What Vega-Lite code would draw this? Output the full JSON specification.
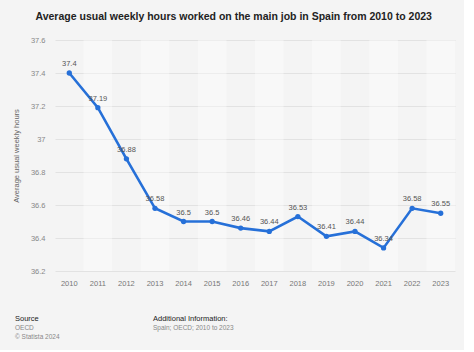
{
  "$schema": "https://vega.github.io/schema/vega-lite/v6.json",
  "background": "#f4f4f4",
  "padding": {"left": 12, "top": 11, "right": 9, "bottom": 5},
  "title": {"text": "Average usual weekly hours worked on the main job in Spain from 2010 to 2023", "anchor": "middle", "fontSize": 10.5, "fontWeight": "bold", "color": "#222222", "font": "Liberation Sans", "offset": 14},
  "config": {"view": {"stroke": null}, "font": "Liberation Sans"},
  "spacing": 28,
  "vconcat": [
    {
      "width": 400,
      "height": 231,
      "data": {"values": [
        {"year": 2010, "hours": 37.4},
        {"year": 2011, "hours": 37.19},
        {"year": 2012, "hours": 36.88},
        {"year": 2013, "hours": 36.58},
        {"year": 2014, "hours": 36.5},
        {"year": 2015, "hours": 36.5},
        {"year": 2016, "hours": 36.46},
        {"year": 2017, "hours": 36.44},
        {"year": 2018, "hours": 36.53},
        {"year": 2019, "hours": 36.41},
        {"year": 2020, "hours": 36.44},
        {"year": 2021, "hours": 36.34},
        {"year": 2022, "hours": 36.58},
        {"year": 2023, "hours": 36.55}
      ]},
      "encoding": {
        "x": {"field": "year", "type": "ordinal", "scale": {"type": "band", "paddingInner": 0, "paddingOuter": 0},
          "axis": {"title": null, "labelAngle": 0, "labelColor": "#777777", "labelFontSize": 7.5, "ticks": false, "domain": false, "grid": false, "labelPadding": 8}}
      },
      "layer": [
        {
          "transform": [{"filter": "datum.year % 2 == 1"}],
          "mark": {"type": "rect", "color": "#ffffff", "opacity": 0.4},
          "encoding": {}
        },
        {
          "encoding": {
            "y": {"field": "hours", "type": "quantitative", "scale": {"domain": [36.2, 37.6], "zero": false, "nice": false},
              "axis": {"values": [36.2, 36.4, 36.6, 36.8, 37, 37.2, 37.4, 37.6], "format": "~g", "labelOverlap": false, "title": "Average usual weekly hours", "titleFontSize": 7.5, "titleFontWeight": "normal", "titleColor": "#666666", "titlePadding": 10, "labelColor": "#888888", "labelFontSize": 7.5, "ticks": false, "domain": false, "gridColor": "#dddddd", "gridWidth": 0.8, "labelPadding": 10}}
          },
          "layer": [
            {
              "mark": {"type": "line", "color": "#2670d8", "strokeWidth": 2.6, "point": {"filled": true, "size": 28, "color": "#2670d8"}}
            },
            {
              "mark": {"type": "text", "dy": -9, "fontSize": 7.5, "color": "#555555"},
              "encoding": {
                "text": {"field": "hours", "type": "quantitative", "format": "~g"}
              }
            }
          ]
        }
      ]
    },
    {
      "spacing": 20,
      "hconcat": [
        {
          "width": 78,
          "height": 1,
          "data": {"values": []},
          "mark": "point",
          "title": {"text": "Source", "subtitle": ["OECD", "© Statista 2024"], "anchor": "start", "fontSize": 7.5, "fontWeight": "normal", "color": "#222222", "subtitleFontSize": 6.5, "subtitleColor": "#888888", "subtitlePadding": 2, "subtitleLineHeight": 9, "dx": -40}
        },
        {
          "width": 250,
          "height": 1,
          "data": {"values": []},
          "mark": "point",
          "title": {"text": "Additional Information:", "subtitle": ["Spain; OECD; 2010 to 2023", " "], "anchor": "start", "fontSize": 7.5, "fontWeight": "normal", "color": "#222222", "subtitleFontSize": 6.5, "subtitleColor": "#888888", "subtitlePadding": 2, "subtitleLineHeight": 9}
        }
      ]
    }
  ]
}
